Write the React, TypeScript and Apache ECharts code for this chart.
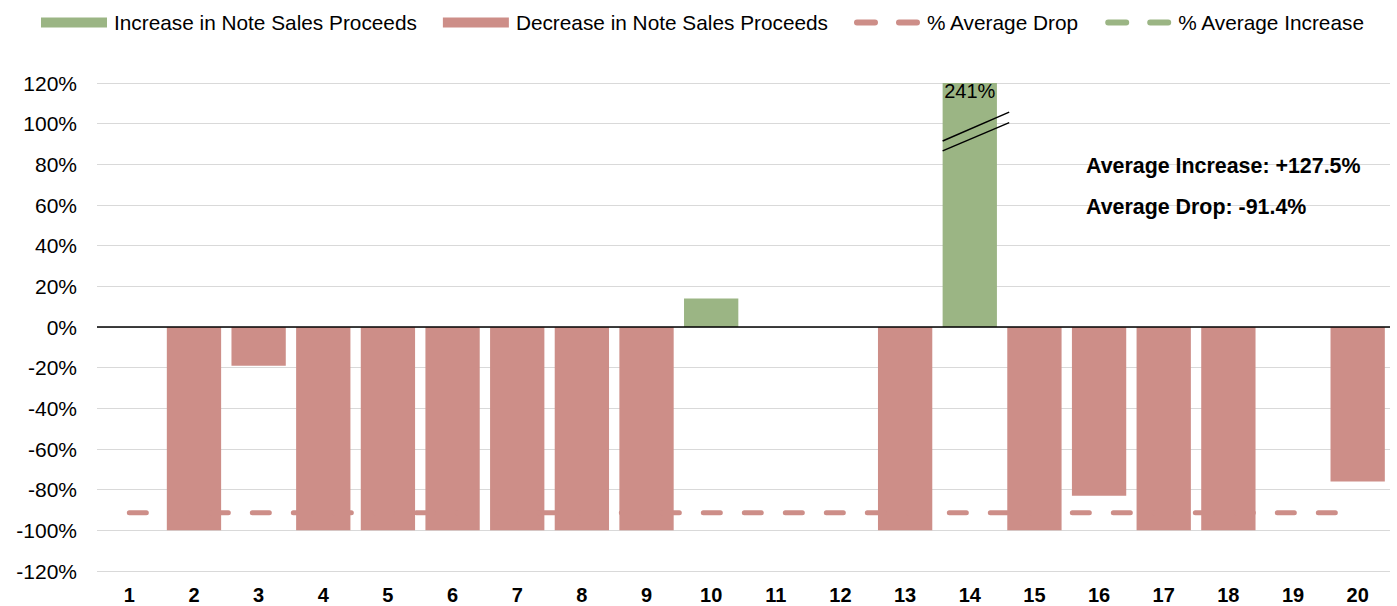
import React, { useEffect, useRef } from "react";
import * as echarts from "echarts";

const categories = ["1","2","3","4","5","6","7","8","9","10","11","12","13","14","15","16","17","18","19","20"];
const increaseValues: (number | null)[] = [null,null,null,null,null,null,null,null,null,14,null,null,null,241,null,null,null,null,null,null];
const decreaseValues: (number | null)[] = [null,-100,-19,-100,-100,-100,-100,-100,-100,null,null,null,-100,null,-100,-83,-100,-100,null,-76];
const averageDrop = -91.4;
const averageIncrease = 127.5;
const yTicks = { min: -120, max: 120, interval: 20 };
const breakCategory = "14";
const breakValues = [[91.5, 105.7], [86.6, 100.5]];

const GREEN = "#9bb584";
const RED = "#cd8e88";
const FONT = "'Liberation Sans', Arial, sans-serif";
const DASH_ICON =
  "path://M3,0H21A3,3,0,0,1,21,6H3A3,3,0,0,1,3,0Z M45,0H63A3,3,0,0,1,63,6H45A3,3,0,0,1,45,0Z";

export default function App() {
  const ref = useRef<HTMLDivElement>(null);
  useEffect(() => {
    if (!ref.current) return;
    const chart = echarts.init(ref.current, null, { renderer: "svg" });
    const clipMax = yTicks.max;
    const incDraw = increaseValues.map((v) =>
      v == null ? null : { value: Math.min(v, clipMax), realValue: v, label: { show: v > clipMax } }
    );
    const option: any = {
      animation: false,
      textStyle: { fontFamily: FONT },
      legend: {
        left: 36,
        top: 7,
        itemWidth: 66,
        itemHeight: 10,
        itemGap: 26,
        symbolKeepAspect: true,
        textStyle: { fontSize: 20.8, color: "#000", fontFamily: FONT, padding: [0, 0, 0, 2] },
        data: [
          { name: "Increase in Note Sales Proceeds", icon: "rect" },
          { name: "Decrease in Note Sales Proceeds", icon: "rect" },
          { name: "% Average Drop", icon: DASH_ICON, itemStyle: { color: RED } },
          { name: "% Average Increase", icon: DASH_ICON, itemStyle: { color: GREEN } },
        ],
      },
      grid: { left: 97, right: 7, top: 83, bottom: 35, containLabel: false },
      xAxis: {
        type: "category",
        data: categories,
        axisLine: { show: false, onZero: false },
        axisTick: { show: false },
        axisLabel: { fontSize: 20, fontWeight: "bold", color: "#000", margin: 14, fontFamily: FONT },
      },
      yAxis: {
        type: "value",
        min: yTicks.min,
        max: yTicks.max,
        interval: yTicks.interval,
        axisLabel: { formatter: (v: number) => `${v}%`, fontSize: 21, color: "#000", margin: 20, fontFamily: FONT },
        splitLine: { lineStyle: { color: "#d9d9d9", width: 1 } },
        axisLine: { show: false },
        axisTick: { show: false },
      },
      series: [
        {
          name: "Increase in Note Sales Proceeds",
          type: "bar",
          data: incDraw,
          barWidth: "84%",
          barGap: "-100%",
          itemStyle: { color: GREEN },
          label: {
            show: false,
            position: "insideTop",
            distance: 0,
            offset: [0, -2],
            color: "#000",
            fontSize: 20,
            fontFamily: FONT,
            formatter: (p: any) => `${p.data.realValue}%`,
          },
          z: 2,
        },
        {
          name: "Decrease in Note Sales Proceeds",
          type: "bar",
          data: decreaseValues,
          barWidth: "84%",
          barGap: "-100%",
          itemStyle: { color: RED },
          z: 2,
          markLine: {
            silent: true,
            symbol: "none",
            label: { show: false },
            lineStyle: { color: "#000", width: 1.5, type: "solid" },
            data: [{ yAxis: 0 }],
            z: 5,
          },
        },
        {
          name: "% Average Drop",
          type: "line",
          data: categories.map(() => averageDrop),
          symbol: "none",
          lineStyle: { color: RED, width: 5, type: [17, 24], cap: "round" },
          itemStyle: { color: RED },
          z: 4,
        },
        {
          name: "% Average Increase",
          type: "line",
          data: categories.map(() => averageIncrease),
          symbol: "none",
          clip: true,
          lineStyle: { color: GREEN, width: 5, type: [17, 24], cap: "round" },
          itemStyle: { color: GREEN },
          z: 4,
        },
      ],
    };
    chart.setOption(option);

    const idx = categories.indexOf(breakCategory);
    const cx = chart.convertToPixel({ xAxisIndex: 0 }, breakCategory) as number;
    const cx2 = chart.convertToPixel({ xAxisIndex: 0 }, categories[idx + 1]) as number;
    const band = cx2 - cx;
    const x1 = cx - 0.42 * band;
    const x2 = cx + 0.61 * band;
    const breakLines = breakValues.map(([a, b]) => ({
      type: "line",
      shape: {
        x1,
        y1: chart.convertToPixel({ yAxisIndex: 0 }, a) as number,
        x2,
        y2: chart.convertToPixel({ yAxisIndex: 0 }, b) as number,
      },
      style: { stroke: "#000", lineWidth: 1.5 },
      z: 10,
    }));
    chart.setOption({
      graphic: [
        ...breakLines,
        {
          type: "text",
          left: 1086,
          top: 155,
          style: { text: `Average Increase: +${averageIncrease}%`, font: `bold 21.4px ${FONT}`, fill: "#000" },
          z: 10,
        },
        {
          type: "text",
          left: 1086,
          top: 196,
          style: { text: `Average Drop: ${averageDrop}%`, font: `bold 21.4px ${FONT}`, fill: "#000" },
          z: 10,
        },
      ],
    });
    return () => chart.dispose();
  }, []);
  return <div ref={ref} style={{ width: 1397, height: 606, position: "absolute", left: 0, top: 0 }} />;
}
